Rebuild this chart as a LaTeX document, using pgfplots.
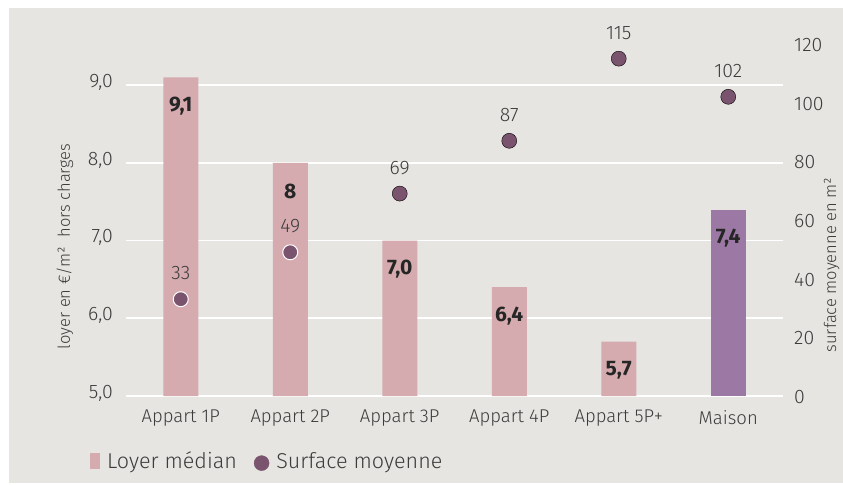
\documentclass[border=0pt]{standalone}
\usepackage{fontspec}
\setmainfont{Fira Sans Light}[BoldFont={Fira Sans Bold}]
\usepackage{pgfplots}
\usepackage{pgfplotstable}
\pgfplotsset{compat=1.18}

\definecolor{bgc}{HTML}{E7E5E2}
\definecolor{barpink}{HTML}{D6ABAF}
\definecolor{maison}{HTML}{9C78A5}
\definecolor{dotc}{HTML}{7A546E}
\definecolor{txt}{HTML}{3C3C3C}

% loyer median (EUR/m2)
\pgfplotstableread{
x y lab
0 9.1 9,1
1 8.0 8
2 7.0 7,0
3 6.4 6,4
4 5.7 5,7
}\loyer
\pgfplotstableread{
x y lab
5 7.4 7,4
}\loyermaison

% surface moyenne (m2)
\pgfplotstableread{
x y
0 33
1 49
}\surfin
\pgfplotstableread{
x y
2 69
3 87
4 115
5 102
}\surfout

\begin{document}
\begin{tikzpicture}[x=1pt,y=1pt]
\useasboundingbox (0,0) rectangle (843,485);
\fill[bgc] (9,2) rectangle (843,477);

\pgfplotsset{
  common/.style={
    at={(126pt,89pt)}, anchor=south west,
    scale only axis, width=657pt, height=352pt,
    xmin=-0.5, xmax=5.5,
    axis line style={draw=none}, tick style={draw=none},
    /pgf/number format/assume math mode=true,
  },
}

\begin{axis}[
  common,
  ymin=5, ymax=9.53,
  ytick={5,6,7,8,9},
  ymajorgrids, grid style={white, line width=1.6pt},
  yticklabel style={anchor=east, inner sep=0pt, xshift=-13pt, yshift=3pt,
    font=\fontsize{19.5}{22}\selectfont, text=txt,
    /pgf/number format/.cd, use comma, fixed, fixed zerofill, precision=1},
  xtick={0,...,5},
  xticklabels={Appart 1P, Appart 2P, Appart 3P, Appart 4P, Appart 5P+, Maison},
  xticklabel style={anchor=center, inner sep=0pt, yshift=-22pt,
    font=\fontsize{18.5}{21}\selectfont, text=txt},
  ylabel={loyer en €/m²\ \ hors charges},
  ylabel style={at={(axis description cs:-0.093,0.425)}, anchor=center,
    font=\fontsize{16.5}{18}\selectfont, text=txt},
  legend style={at={(axis description cs:-0.055,-0.185)}, anchor=west,
    draw=none, fill=none, legend columns=-1, inner sep=0pt,
    font=\fontsize{21.5}{24}\selectfont, text=txt,
    /tikz/every odd column/.append style={column sep=5pt},
    /tikz/every even column/.append style={column sep=15pt}},
  nodes near coords style={anchor=center, yshift=-29pt,
    font=\fontsize{21}{24}\bfseries, text=black!85},
]
\addplot[ybar, bar width=35pt, bar shift=0pt, fill=barpink, draw=none,
  nodes near coords, point meta=explicit symbolic,
  legend image code/.code={\fill[barpink] (0pt,-8pt) rectangle (10pt,8pt);}]
  table[x=x, y=y, meta=lab] {\loyer};
\addlegendentry{Loyer médian}
\addplot[ybar, bar width=35pt, bar shift=0pt, fill=maison, draw=none,
  nodes near coords, point meta=explicit symbolic, forget plot]
  table[x=x, y=y, meta=lab] {\loyermaison};
\addlegendimage{legend image code/.code={\fill[dotc] (7.5pt,-2pt) circle (7.5pt);}}
\addlegendentry{Surface moyenne}
\end{axis}

\begin{axis}[
  common, clip=false,
  axis y line*=right,
  ymin=0, ymax=120,
  xtick=\empty,
  ytick={0,20,...,120},
  yticklabel style={anchor=west, inner sep=0pt, xshift=11pt, yshift=-1pt,
    font=\fontsize{19.5}{22}\selectfont, text=txt},
  ylabel={surface moyenne en m²},
  ylabel style={at={(axis description cs:1.074,0.372)}, anchor=center,
    font=\fontsize{16.5}{18}\selectfont, text=txt},
  nodes near coords style={anchor=center, yshift=26pt,
    font=\fontsize{19.5}{22}\selectfont, text=txt},
]
\addplot[only marks, mark=*, mark size=7.5pt,
  mark options={fill=dotc, draw=white, line width=1pt},
  nodes near coords, point meta=y]
  table[x=x, y=y] {\surfin};
\addplot[only marks, mark=*, mark size=7.5pt,
  mark options={fill=dotc, draw=none},
  nodes near coords, point meta=y]
  table[x=x, y=y] {\surfout};
\end{axis}
\end{tikzpicture}
\end{document}
